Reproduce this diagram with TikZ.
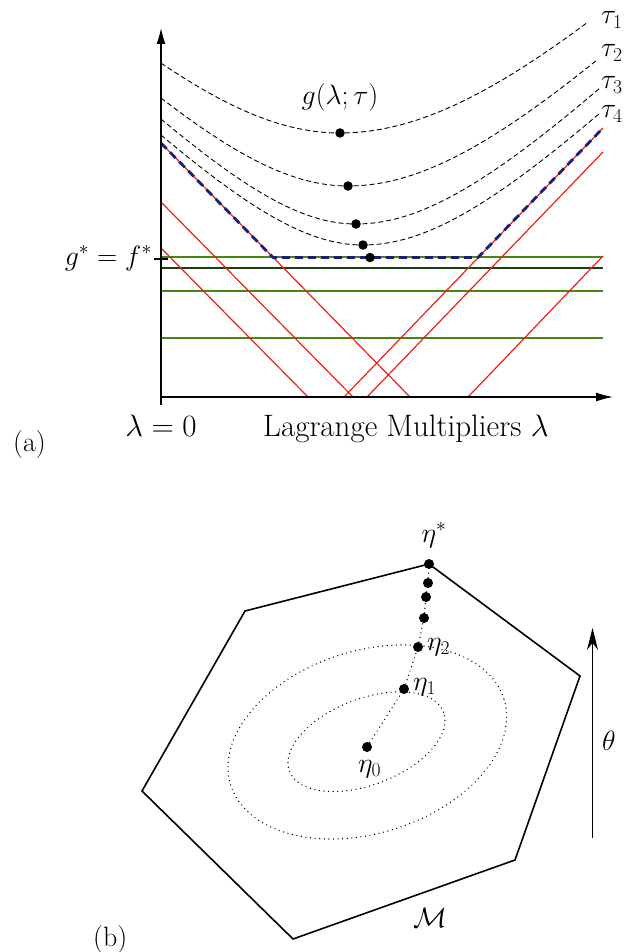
\RequirePackage{fix-cm}
\documentclass[tikz,border=0pt]{standalone}
\usetikzlibrary{arrows.meta}
\definecolor{lgreen}{RGB}{70,135,20}
\definecolor{dgreen}{RGB}{25,65,20}
\definecolor{navyb}{RGB}{30,30,120}
\definecolor{lred}{RGB}{240,30,30}
\begin{document}
\begin{tikzpicture}[x=1pt,y=-1pt,
  dot/.style={circle,fill=black,inner sep=0pt,minimum size=9.5pt},
  lbl/.style={font=\fontsize{28}{34}\selectfont,inner sep=0pt},
  biglbl/.style={font=\fontsize{31}{37}\selectfont,inner sep=0pt},
  redln/.style={draw=lred,line width=1.2pt},
  grn/.style={draw=lgreen,line width=1.2pt},
  curve/.style={dash pattern=on 5pt off 3pt,line width=0.9pt},
  bluedash/.style={draw=navyb,line width=2.8pt,dash pattern=on 8pt off 5pt},
  hexline/.style={line width=1.6pt,line join=miter},
  dotline/.style={line width=1.4pt,dash pattern=on 0pt off 4.6pt,line cap=round},
  axisline/.style={line width=1.3pt}]
\useasboundingbox[fill=white] (0,0) rectangle (624,952);
% ---------- panel (a) ----------
\coordinate (O) at (161,397);
\coordinate (ytop) at (161,28);
\coordinate (xend) at (613,397);
% green horizontal lines
\draw[grn] (161,257) -- (603,257);
\draw[grn,draw=dgreen] (161,268) -- (603,268);
\draw[grn] (161,291) -- (603,291);
\draw[grn] (161,338) -- (603,338);
% red lines
\draw[redln] (161,248) -- (308,397);
\draw[redln] (161,202) -- (353,397);
\draw[redln] (161,143) -- (410,397);
\draw[redln] (344,397) -- (603,128);
\draw[redln] (367,397) -- (603,152);
\draw[redln] (468,397) -- (603,256);
% blue dashed envelope
\draw[bluedash] (161,143) -- (273,257.5) -- (478,257.5) -- (603,128);
% axes
\draw[axisline,-{Latex[length=16pt,width=9pt]}] (O) -- (ytop);
\draw[axisline,-{Latex[length=17pt,width=9pt]}] (O) -- (xend);
\draw[line width=2.5pt] (161,393) -- (161,405);
\draw[line width=2.5pt] (154,259) -- (168,259);
% dashed curves g(lambda;tau)
\draw[curve] plot[domain=161:340,samples=40] (\x,{133-100*(sqrt(1.94*1.94+(\x-340)/100*(\x-340)/100)-1.94)})
  -- plot[domain=340:588,samples=40] (\x,{133-100*(sqrt(2.215*2.215+(\x-340)/100*(\x-340)/100)-2.215)});
\draw[curve] plot[domain=161:348,samples=40] (\x,{186-100*(sqrt(1.547*1.547+(\x-348)/100*(\x-348)/100)-1.547)})
  -- plot[domain=348:597,samples=40] (\x,{186-100*(sqrt(1.83*1.83+(\x-348)/100*(\x-348)/100)-1.83)});
\draw[curve] plot[domain=161:356,samples=40] (\x,{224-100*(sqrt(1.286*1.286+(\x-356)/100*(\x-356)/100)-1.286)})
  -- plot[domain=356:600,samples=40] (\x,{224-100*(sqrt(1.509*1.509+(\x-356)/100*(\x-356)/100)-1.509)});
\draw[curve] plot[domain=161:363,samples=40] (\x,{245-100*(sqrt(1.305*1.305+(\x-363)/100*(\x-363)/100)-1.305)})
  -- plot[domain=363:600,samples=40] (\x,{245-100*(sqrt(1.468*1.468+(\x-363)/100*(\x-363)/100)-1.468)});
% minima dots
\node[dot] (m1) at (340,133) {};
\node[dot] (m2) at (348,186) {};
\node[dot] (m3) at (356,224) {};
\node[dot] (m4) at (363,245) {};
\node[dot] (m5) at (370,257.5) {};
% labels (a)
\node[lbl] (glab) at (340,98) {$g(\lambda;\tau)$};
\node[lbl,anchor=west] (t1) at (601,20) {$\tau_1$};
\node[lbl,anchor=west] (t2) at (601,53) {$\tau_2$};
\node[lbl,anchor=west] (t3) at (601,85) {$\tau_3$};
\node[lbl,anchor=west] (t4) at (601,114) {$\tau_4$};
\node[lbl,anchor=base east] (gf) at (152,265) {$g^*=f^*$};
\node[biglbl,anchor=base] (l0) at (161,436) {$\lambda=0$};
\node[biglbl,anchor=base west] (lm) at (263,436) {Lagrange Multipliers $\lambda$};
\node[lbl,anchor=base west] (pa) at (13,451) {(a)};
% ---------- panel (b) ----------
\coordinate (h1) at (429,564);
\coordinate (h2) at (580,676);
\coordinate (h3) at (515,860);
\coordinate (h4) at (293,939);
\coordinate (h5) at (142,791);
\coordinate (h6) at (245,611);
\draw[hexline] (h1) -- (h2) -- (h3) -- (h4) -- (h5) -- (h6) -- cycle;
\coordinate (c1) at (366.5,741.7);
\coordinate (c2) at (367.3,742);
\draw[dotline,rotate around={21:(c1)}] (c1) ellipse [x radius=82.5pt,y radius=43pt];
\draw[dotline,rotate around={17.5:(c2)}] (c2) ellipse [x radius=143.2pt,y radius=91.2pt];
\node[dot,minimum size=10pt] (es) at (h1) {};
\node[dot,minimum size=10pt] (d3) at (428,583) {};
\node[dot,minimum size=10pt] (d2) at (426,597) {};
\node[dot,minimum size=10pt] (d1) at (424,618) {};
\node[dot,minimum size=10pt] (e2) at (418,647) {};
\node[dot,minimum size=10pt] (e1) at (404,689) {};
\node[dot,minimum size=10pt] (e0) at (367,747) {};
\draw[dotline] (e0) -- (e1) -- (e2) -- (d1) -- (d2) -- (d3) -- (es);
\node[lbl,anchor=base] (esl) at (434,542) {$\eta^*$};
\node[lbl,anchor=base west] (e2l) at (427,650) {$\eta_2$};
\node[lbl,anchor=base west] (e1l) at (413,690) {$\eta_1$};
\node[lbl,anchor=base west] (e0l) at (358,772) {$\eta_0$};
\node[lbl,anchor=base west] (ml) at (413,927) {$\mathcal{M}$};
\coordinate (tb) at (592.5,838);
\coordinate (tt) at (592.5,628);
\draw[line width=1.2pt,-{Stealth[length=22pt,width=11pt]}] (tb) -- (tt);
\node[lbl,anchor=base west] (thl) at (602,750) {$\theta$};
\node[lbl,anchor=base west] (pb) at (93,946) {(b)};
\end{tikzpicture}
\end{document}
